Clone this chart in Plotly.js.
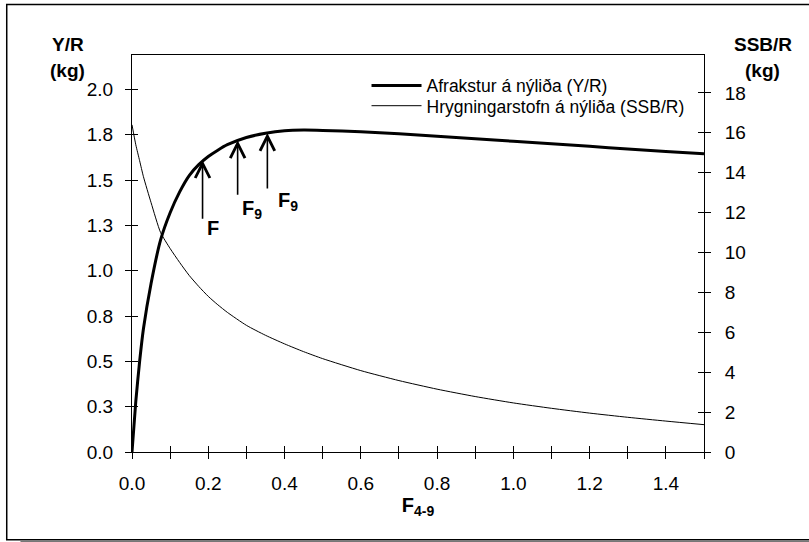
<!DOCTYPE html>
<html>
<head>
<meta charset="utf-8">
<script src="https://cdn.plot.ly/plotly-3.0.1.min.js"></script>
<style>html,body{margin:0;padding:0;background:#fff;}#chart{width:809px;height:542px;}</style>
</head>
<body>
<div id="chart"></div>
<script>
// ---- data ----
var fishingMortality = [0, 0.01, 0.02, 0.03, 0.05, 0.075, 0.1, 0.125, 0.15, 0.175, 0.2, 0.225, 0.25, 0.3, 0.35, 0.4, 0.45, 0.5, 0.6, 0.7, 0.8, 0.9, 1.0, 1.1, 1.2, 1.3, 1.4, 1.5];
var yieldPerRecruit = [0, 0.28, 0.5, 0.68, 0.93, 1.17, 1.32, 1.435, 1.525, 1.585, 1.63, 1.665, 1.695, 1.735, 1.758, 1.772, 1.776, 1.774, 1.766, 1.755, 1.742, 1.728, 1.714, 1.700, 1.686, 1.672, 1.658, 1.645];
var ssbPerRecruit = [16.4, 15.4, 14.6, 13.8, 12.5, 11.0, 10.2, 9.5, 8.85, 8.3, 7.8, 7.38, 7.0, 6.35, 5.85, 5.42, 5.03, 4.68, 4.08, 3.58, 3.15, 2.78, 2.46, 2.19, 1.95, 1.74, 1.55, 1.37];
var seriesNames = ["Afrakstur á nýliða (Y/R)", "Hrygningarstofn á nýliða (SSB/R)"];

var leftTickVals = [0, 0.25, 0.5, 0.75, 1.0, 1.25, 1.5, 1.75, 2.0];
var leftTickText = ["0.0", "0.3", "0.5", "0.8", "1.0", "1.3", "1.5", "1.8", "2.0"];
var rightTickVals = [0, 2, 4, 6, 8, 10, 12, 14, 16, 18];
var xTickVals = [0, 0.1, 0.2, 0.3, 0.4, 0.5, 0.6, 0.7, 0.8, 0.9, 1.0, 1.1, 1.2, 1.3, 1.4, 1.5];
var xTickText = ["0.0", "", "0.2", "", "0.4", "", "0.6", "", "0.8", "", "1.0", "", "1.2", "", "1.4", ""];

// reference points marked with arrows
var arrowF = [0.185, 0.277, 0.355];
var arrowYR = [1.61, 1.72, 1.76];
var arrowLabels = ["<b>F</b>", "<b>F<sub>9</sub></b>", "<b>F<sub>9</sub></b>"];

// ---- styling ----
var FONT = "Arial, 'Liberation Sans', sans-serif";
var arrowLen = [60, 56, 57];
var labelShiftX = [10, 14, 21];
var labelShiftY = [-68, -69, -69];

var traces = [
  {x: fishingMortality, y: yieldPerRecruit, type: "scatter", mode: "lines", name: seriesNames[0],
   line: {color: "#000", width: 3, shape: "spline", smoothing: 0.6}, xaxis: "x", yaxis: "y", legend: "legend"},
  {x: fishingMortality, y: ssbPerRecruit, type: "scatter", mode: "lines", name: seriesNames[1],
   line: {color: "#000", width: 1, shape: "spline", smoothing: 0.6}, xaxis: "x", yaxis: "y2", legend: "legend2"},
  {x: [], y: [], type: "scatter", mode: "lines", xaxis: "x2", yaxis: "y3", showlegend: false, hoverinfo: "skip"},
  {x: [], y: [], type: "scatter", mode: "lines", xaxis: "x2", yaxis: "y4", showlegend: false, hoverinfo: "skip"}
];

var annotations = [];
for (var i = 0; i < arrowF.length; i++) {
  annotations.push({x: arrowF[i], y: arrowYR[i], xref: "x", yref: "y", text: "", showarrow: true,
    ax: 0, ay: arrowLen[i], arrowhead: 5, arrowsize: 1.8, arrowwidth: 1.6, arrowcolor: "#000", standoff: 0});
  annotations.push({x: arrowF[i], y: arrowYR[i], xref: "x", yref: "y", text: arrowLabels[i], showarrow: false,
    xshift: labelShiftX[i], yshift: labelShiftY[i], font: {family: FONT, size: 20, color: "#000"}});
}
var axisLabels = [["<b>Y/R</b>", -0.112, 1.026], ["<b>(kg)</b>", -0.112, 0.96], ["<b>SSB/R</b>", 1.103, 1.026], ["<b>(kg)</b>", 1.103, 0.96]];
axisLabels.forEach(function (a) {
  annotations.push({text: a[0], x: a[1], y: a[2], xref: "paper", yref: "paper", showarrow: false,
    xanchor: "center", yanchor: "middle", font: {family: FONT, size: 19, color: "#000"}});
});

var tickFont = {family: FONT, size: 19, color: "#000"};
var layout = {
  width: 809, height: 542,
  margin: {l: 132, r: 105, t: 55, b: 90, pad: 0},
  paper_bgcolor: "#fff", plot_bgcolor: "#fff",
  font: {family: FONT, color: "#000"},
  xaxis: {range: [0, 1.5], tickmode: "array", tickvals: xTickVals, ticktext: xTickText,
    ticks: "outside", ticklen: 6, tickwidth: 1, tickcolor: "#000", showline: true, linecolor: "#000", linewidth: 1,
    mirror: true, showgrid: false, zeroline: false, tickfont: tickFont, ticklabelstandoff: 8,
    title: {text: "<b>F<sub>4-9</sub></b>", font: {family: FONT, size: 20, color: "#000"}, standoff: 4}},
  xaxis2: {range: [0, 1.5], overlaying: "x", anchor: "y", tickmode: "array", tickvals: xTickVals,
    ticks: "inside", ticklen: 6, tickcolor: "#000", showticklabels: false, showline: false, showgrid: false, zeroline: false},
  yaxis: {range: [0, 2.19], tickmode: "array", tickvals: leftTickVals, ticktext: leftTickText,
    ticks: "outside", ticklen: 6, tickcolor: "#000", showline: true, linecolor: "#000", linewidth: 1,
    showgrid: false, zeroline: false, tickfont: tickFont, ticklabelstandoff: 8},
  yaxis2: {range: [0, 19.9], overlaying: "y", side: "right", anchor: "x", tickmode: "array", tickvals: rightTickVals,
    ticks: "outside", ticklen: 6, tickcolor: "#000", showline: true, linecolor: "#000", linewidth: 1,
    showgrid: false, zeroline: false, tickfont: tickFont, ticklabelstandoff: 10},
  yaxis3: {range: [0, 2.19], overlaying: "y", side: "left", anchor: "x", tickmode: "array", tickvals: leftTickVals,
    ticks: "inside", ticklen: 6, tickcolor: "#000", showticklabels: false, showline: false, showgrid: false, zeroline: false},
  yaxis4: {range: [0, 19.9], overlaying: "y", side: "right", anchor: "x", tickmode: "array", tickvals: rightTickVals,
    ticks: "inside", ticklen: 6, tickcolor: "#000", showticklabels: false, showline: false, showgrid: false, zeroline: false},
  legend: {x: 0.41, y: 0.923, xanchor: "left", yanchor: "middle", bgcolor: "rgba(0,0,0,0)",
    font: {family: FONT, size: 17.5, color: "#000"}, itemwidth: 50, tracegroupgap: 0},
  legend2: {x: 0.41, y: 0.872, xanchor: "left", yanchor: "middle", bgcolor: "rgba(0,0,0,0)",
    font: {family: FONT, size: 17.5, color: "#000"}, itemwidth: 50, tracegroupgap: 0},
  annotations: annotations,
  shapes: [
    {type: "rect", xref: "paper", yref: "paper", x0: -0.219, x1: 1.25, y0: -0.221, y1: 1.127,
     line: {color: "#000", width: 1.5}, fillcolor: "rgba(0,0,0,0)", layer: "below"},
    {type: "line", xref: "paper", yref: "paper", x0: -0.195, x1: 1.25, y0: -0.226, y1: -0.226,
     line: {color: "#777", width: 2}}
  ],
  showlegend: true
};

Plotly.newPlot("chart", traces, layout, {displayModeBar: false, staticPlot: true});
</script>
</body>
</html>
